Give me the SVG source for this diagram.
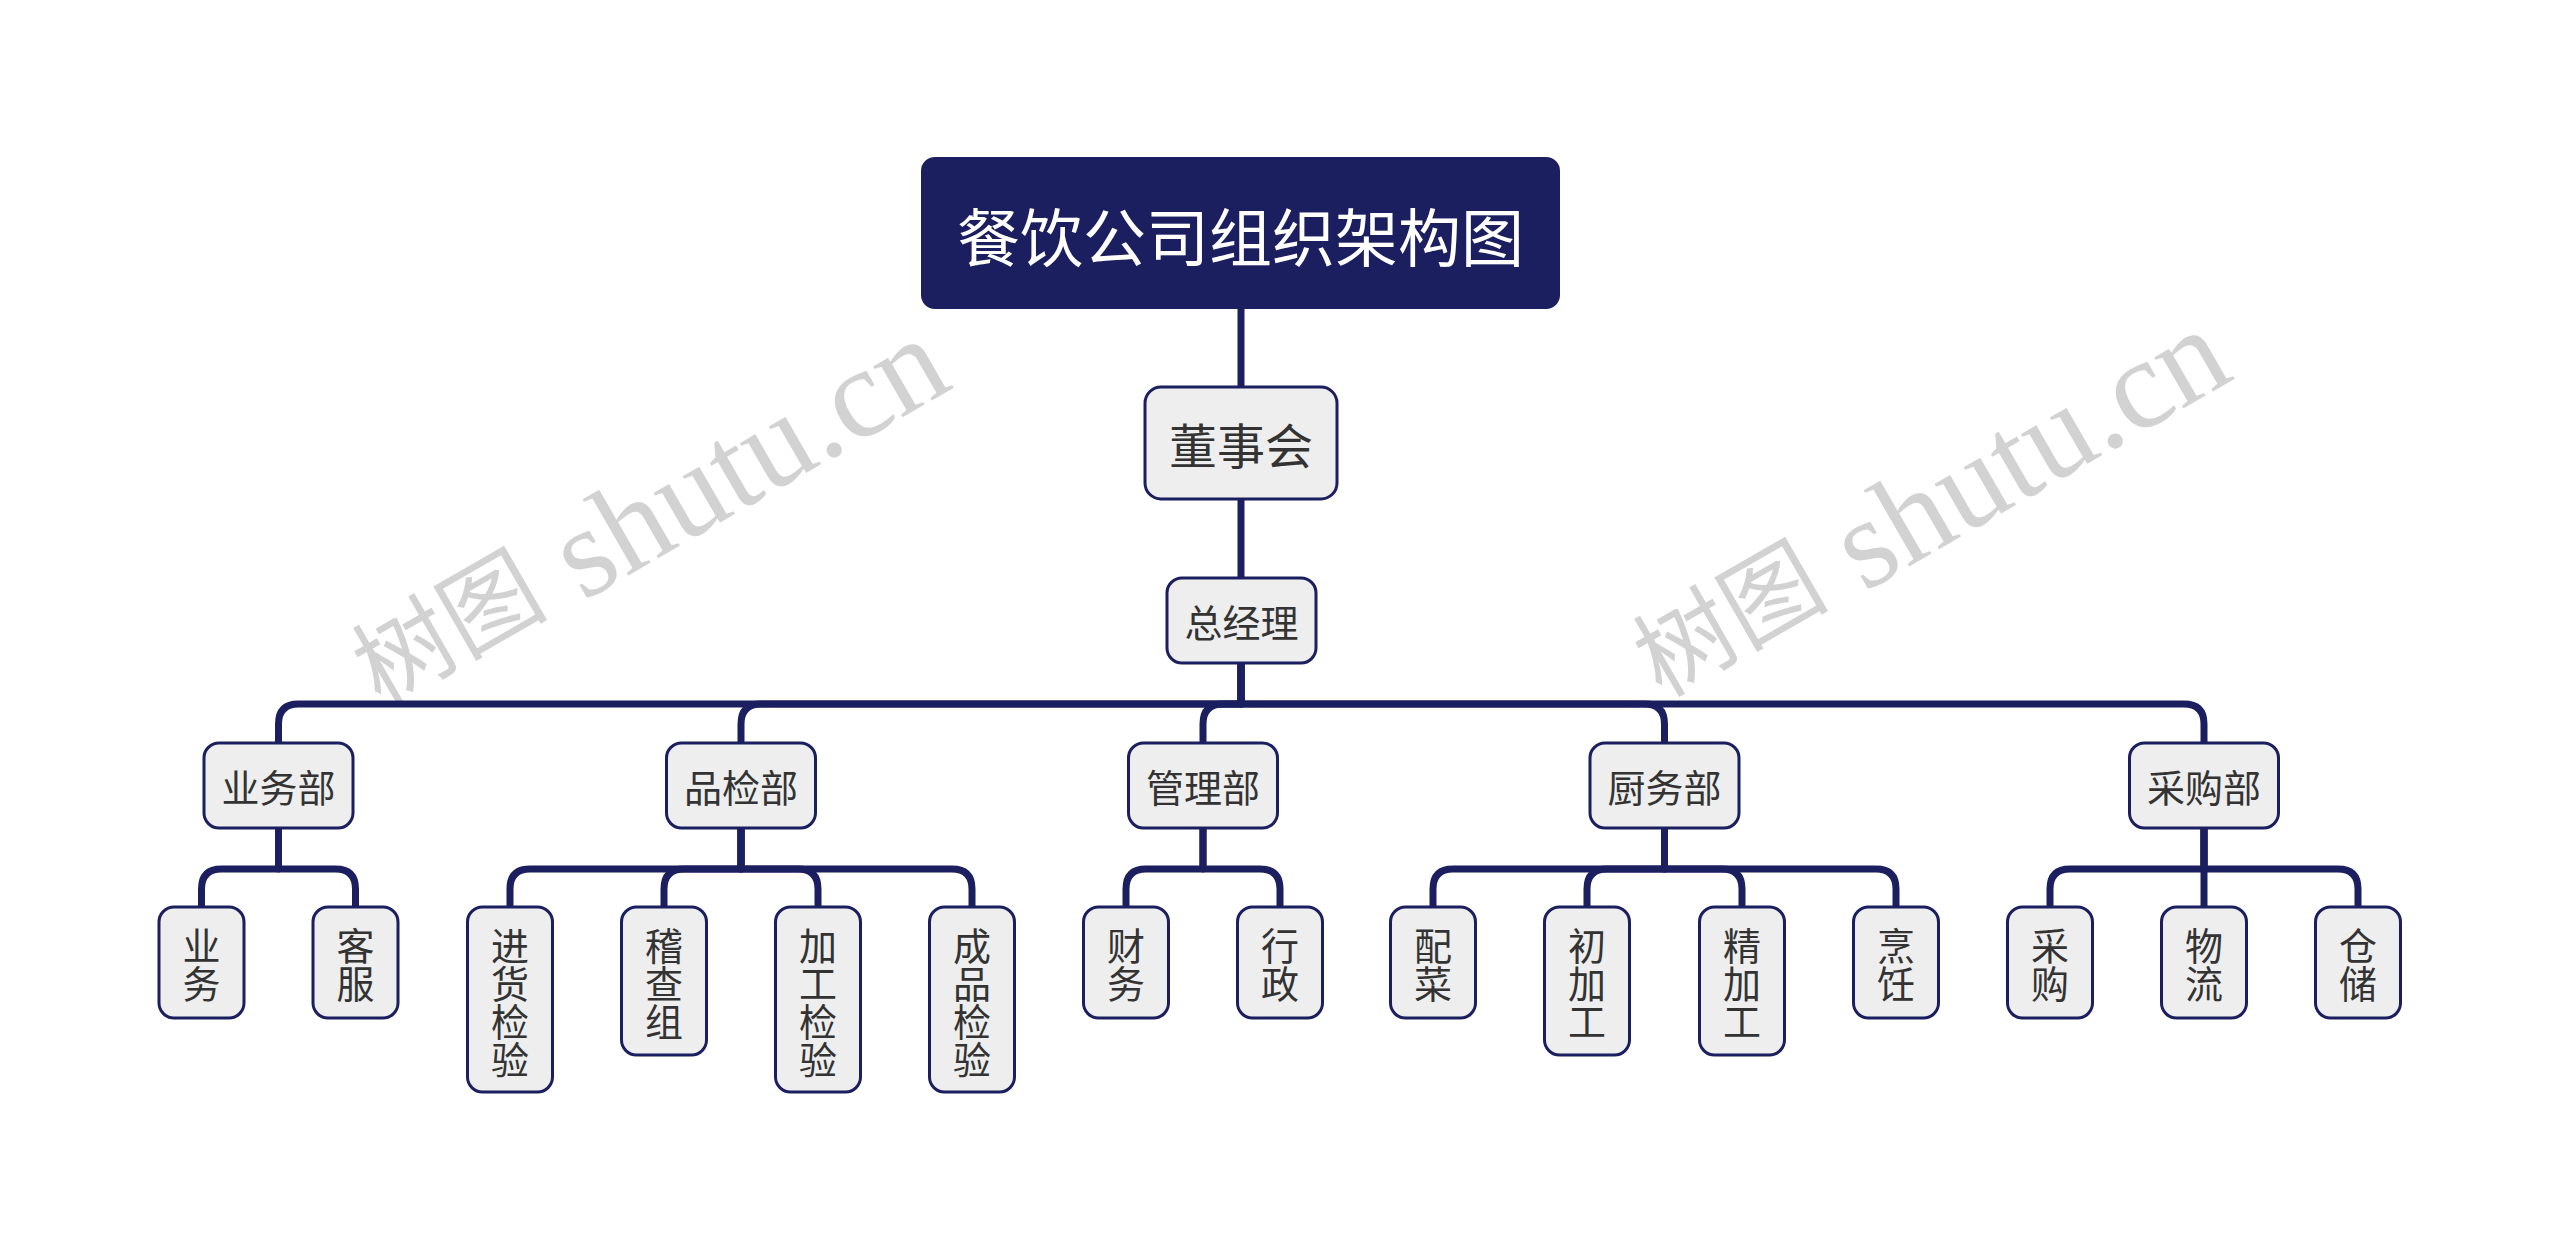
<svg xmlns="http://www.w3.org/2000/svg" width="2560" height="1253" viewBox="0 0 2560 1253">
<style>
.bg{fill:#ffffff}
.wm{font-family:"Liberation Serif","Noto Sans CJK SC",serif;fill:#d2d2d2;text-anchor:middle;dominant-baseline:central}
.wmc{font-size:98px}
.wml{font-size:128px}
.conn path{fill:none;stroke:#1b1f5f;stroke-width:7;stroke-linecap:butt;stroke-linejoin:round}
.box{fill:#eeeeee;stroke:#1b1f5f;stroke-width:3}
.root{fill:#1b1f5f;stroke:#1b1f5f;stroke-width:2}
.t{font-family:"Noto Sans CJK SC","Noto Sans",sans-serif;fill:#333333;text-anchor:middle;dominant-baseline:central}
.tr{font-family:"Noto Sans CJK SC","Noto Sans",sans-serif;fill:#ffffff;text-anchor:middle;dominant-baseline:central;font-size:63px}
.f48{font-size:48px}
.f38{font-size:38px}
</style>
<rect class="bg" x="0" y="0" width="2560" height="1253"/>
<g id="watermarks">
<text class="wm" transform="translate(649,514) rotate(-30)"><tspan class="wmc">树图</tspan><tspan class="wml"> shutu.cn</tspan></text>
<text class="wm" transform="translate(1930,505) rotate(-30)"><tspan class="wmc">树图</tspan><tspan class="wml"> shutu.cn</tspan></text>
</g>
<g id="connectors" class="conn">
<path d="M1241,308 V387"/>
<path d="M1241,499 V578"/>
<path d="M1241,663 V704 H298.5 Q278.5,704 278.5,724 V743"/>
<path d="M1241,663 V704 H761 Q741,704 741,724 V743"/>
<path d="M1241,663 V704 H1223 Q1203,704 1203,724 V743"/>
<path d="M1241,663 V704 H1644.5 Q1664.5,704 1664.5,724 V743"/>
<path d="M1241,663 V704 H2184 Q2204,704 2204,724 V743"/>
<path d="M278.5,828 V869 H221.5 Q201.5,869 201.5,889 V907"/>
<path d="M278.5,828 V869 H335.5 Q355.5,869 355.5,889 V907"/>
<path d="M741,828 V869 H530 Q510,869 510,889 V907"/>
<path d="M741,828 V869 H684 Q664,869 664,889 V907"/>
<path d="M741,828 V869 H798 Q818,869 818,889 V907"/>
<path d="M741,828 V869 H952 Q972,869 972,889 V907"/>
<path d="M1203,828 V869 H1146 Q1126,869 1126,889 V907"/>
<path d="M1203,828 V869 H1260 Q1280,869 1280,889 V907"/>
<path d="M1664.5,828 V869 H1453 Q1433,869 1433,889 V907"/>
<path d="M1664.5,828 V869 H1607 Q1587,869 1587,889 V907"/>
<path d="M1664.5,828 V869 H1722 Q1742,869 1742,889 V907"/>
<path d="M1664.5,828 V869 H1876 Q1896,869 1896,889 V907"/>
<path d="M2204,828 V869 H2070 Q2050,869 2050,889 V907"/>
<path d="M2204,828 V907"/>
<path d="M2204,828 V869 H2338 Q2358,869 2358,889 V907"/>
</g>
<g id="root"><rect class="root" x="922" y="158" width="637" height="150" rx="13"/><text class="tr" x="1240.5" y="233">餐饮公司组织架构图</text></g>
<g id="board"><rect class="box" x="1145" y="387" width="192" height="112" rx="16"/><text class="t f48" x="1241" y="443">董事会</text></g>
<g id="gm"><rect class="box" x="1167" y="578" width="149" height="85" rx="15"/><text class="t f38" x="1241.5" y="620.5">总经理</text></g>
<g id="dept-yewu"><rect class="box" x="204" y="743" width="149" height="85" rx="15"/><text class="t f38" x="278.5" y="785.5">业务部</text></g>
<g id="dept-pinjian"><rect class="box" x="666.5" y="743" width="149" height="85" rx="15"/><text class="t f38" x="741" y="785.5">品检部</text></g>
<g id="dept-guanli"><rect class="box" x="1128.5" y="743" width="149" height="85" rx="15"/><text class="t f38" x="1203" y="785.5">管理部</text></g>
<g id="dept-chuwu"><rect class="box" x="1590" y="743" width="149" height="85" rx="15"/><text class="t f38" x="1664.5" y="785.5">厨务部</text></g>
<g id="dept-caigou"><rect class="box" x="2129.5" y="743" width="149" height="85" rx="15"/><text class="t f38" x="2204" y="785.5">采购部</text></g>
<g id="leaf-yewu"><rect class="box" x="159" y="907" width="85" height="111" rx="15"/><text class="t f38"><tspan x="201.5" y="943">业</tspan><tspan x="201.5" y="981">务</tspan></text></g>
<g id="leaf-kefu"><rect class="box" x="313" y="907" width="85" height="111" rx="15"/><text class="t f38"><tspan x="355.5" y="943">客</tspan><tspan x="355.5" y="981">服</tspan></text></g>
<g id="leaf-jinhuo"><rect class="box" x="467.5" y="907" width="85" height="185" rx="15"/><text class="t f38"><tspan x="510" y="943">进</tspan><tspan x="510" y="981">货</tspan><tspan x="510" y="1019">检</tspan><tspan x="510" y="1057">验</tspan></text></g>
<g id="leaf-jicha"><rect class="box" x="621.5" y="907" width="85" height="148" rx="15"/><text class="t f38"><tspan x="664" y="943">稽</tspan><tspan x="664" y="981">查</tspan><tspan x="664" y="1019">组</tspan></text></g>
<g id="leaf-jiagong"><rect class="box" x="775.5" y="907" width="85" height="185" rx="15"/><text class="t f38"><tspan x="818" y="943">加</tspan><tspan x="818" y="981">工</tspan><tspan x="818" y="1019">检</tspan><tspan x="818" y="1057">验</tspan></text></g>
<g id="leaf-chengpin"><rect class="box" x="929.5" y="907" width="85" height="185" rx="15"/><text class="t f38"><tspan x="972" y="943">成</tspan><tspan x="972" y="981">品</tspan><tspan x="972" y="1019">检</tspan><tspan x="972" y="1057">验</tspan></text></g>
<g id="leaf-caiwu"><rect class="box" x="1083.5" y="907" width="85" height="111" rx="15"/><text class="t f38"><tspan x="1126" y="943">财</tspan><tspan x="1126" y="981">务</tspan></text></g>
<g id="leaf-xingzheng"><rect class="box" x="1237.5" y="907" width="85" height="111" rx="15"/><text class="t f38"><tspan x="1280" y="943">行</tspan><tspan x="1280" y="981">政</tspan></text></g>
<g id="leaf-peicai"><rect class="box" x="1390.5" y="907" width="85" height="111" rx="15"/><text class="t f38"><tspan x="1433" y="943">配</tspan><tspan x="1433" y="981">菜</tspan></text></g>
<g id="leaf-chujiagong"><rect class="box" x="1544.5" y="907" width="85" height="148" rx="15"/><text class="t f38"><tspan x="1587" y="943">初</tspan><tspan x="1587" y="981">加</tspan><tspan x="1587" y="1019">工</tspan></text></g>
<g id="leaf-jingjiagong"><rect class="box" x="1699.5" y="907" width="85" height="148" rx="15"/><text class="t f38"><tspan x="1742" y="943">精</tspan><tspan x="1742" y="981">加</tspan><tspan x="1742" y="1019">工</tspan></text></g>
<g id="leaf-pengren"><rect class="box" x="1853.5" y="907" width="85" height="111" rx="15"/><text class="t f38"><tspan x="1896" y="943">烹</tspan><tspan x="1896" y="981">饪</tspan></text></g>
<g id="leaf-caigou"><rect class="box" x="2007.5" y="907" width="85" height="111" rx="15"/><text class="t f38"><tspan x="2050" y="943">采</tspan><tspan x="2050" y="981">购</tspan></text></g>
<g id="leaf-wuliu"><rect class="box" x="2161.5" y="907" width="85" height="111" rx="15"/><text class="t f38"><tspan x="2204" y="943">物</tspan><tspan x="2204" y="981">流</tspan></text></g>
<g id="leaf-cangchu"><rect class="box" x="2315.5" y="907" width="85" height="111" rx="15"/><text class="t f38"><tspan x="2358" y="943">仓</tspan><tspan x="2358" y="981">储</tspan></text></g>
</svg>
